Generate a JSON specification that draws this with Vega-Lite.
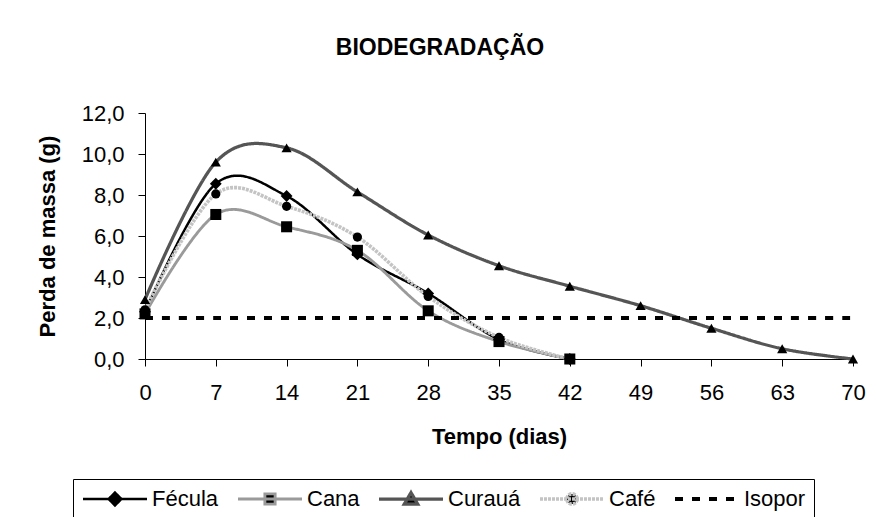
{
  "$schema": "https://vega.github.io/schema/vega-lite/v6.json",
  "width": 708,
  "height": 246,
  "autosize": {"type": "none"},
  "padding": {"left": 145, "top": 113, "right": 23, "bottom": 158},
  "background": "white",
  "config": {
    "font": "Liberation Sans",
    "view": {"stroke": null},
    "axis": {
      "domainColor": "black",
      "tickColor": "black",
      "labelColor": "black",
      "titleColor": "black",
      "labelFont": "Liberation Sans",
      "titleFont": "Liberation Sans",
      "labelFontSize": 22,
      "titleFontSize": 22,
      "titleFontWeight": "bold",
      "grid": false,
      "tickSize": 7
    }
  },
  "title": {
    "text": "BIODEGRADAÇÃO",
    "font": "Liberation Sans",
    "fontSize": 23,
    "fontWeight": "bold",
    "color": "black",
    "anchor": "middle",
    "dx": -59,
    "offset": 42
  },
  "datasets": {
    "series": [
      {"dia": 0, "serie": "Fécula", "perda": 2.3},
      {"dia": 7, "serie": "Fécula", "perda": 8.55},
      {"dia": 14, "serie": "Fécula", "perda": 7.95},
      {"dia": 21, "serie": "Fécula", "perda": 5.1},
      {"dia": 28, "serie": "Fécula", "perda": 3.2},
      {"dia": 35, "serie": "Fécula", "perda": 0.95},
      {"dia": 42, "serie": "Fécula", "perda": 0.0},
      {"dia": 0, "serie": "Cana", "perda": 2.2},
      {"dia": 7, "serie": "Cana", "perda": 7.05},
      {"dia": 14, "serie": "Cana", "perda": 6.45},
      {"dia": 21, "serie": "Cana", "perda": 5.3},
      {"dia": 28, "serie": "Cana", "perda": 2.35},
      {"dia": 35, "serie": "Cana", "perda": 0.85},
      {"dia": 42, "serie": "Cana", "perda": 0.0},
      {"dia": 0, "serie": "Curauá", "perda": 2.9},
      {"dia": 7, "serie": "Curauá", "perda": 9.6},
      {"dia": 14, "serie": "Curauá", "perda": 10.3},
      {"dia": 21, "serie": "Curauá", "perda": 8.15},
      {"dia": 28, "serie": "Curauá", "perda": 6.05},
      {"dia": 35, "serie": "Curauá", "perda": 4.55},
      {"dia": 42, "serie": "Curauá", "perda": 3.55},
      {"dia": 49, "serie": "Curauá", "perda": 2.6},
      {"dia": 56, "serie": "Curauá", "perda": 1.5},
      {"dia": 63, "serie": "Curauá", "perda": 0.5},
      {"dia": 70, "serie": "Curauá", "perda": 0.0},
      {"dia": 0, "serie": "Café", "perda": 2.4},
      {"dia": 7, "serie": "Café", "perda": 8.05},
      {"dia": 14, "serie": "Café", "perda": 7.45},
      {"dia": 21, "serie": "Café", "perda": 5.95},
      {"dia": 28, "serie": "Café", "perda": 3.05},
      {"dia": 35, "serie": "Café", "perda": 1.05},
      {"dia": 42, "serie": "Café", "perda": 0.0},
      {"dia": 0, "serie": "Isopor", "perda": 2.0},
      {"dia": 7, "serie": "Isopor", "perda": 2.0},
      {"dia": 14, "serie": "Isopor", "perda": 2.0},
      {"dia": 21, "serie": "Isopor", "perda": 2.0},
      {"dia": 28, "serie": "Isopor", "perda": 2.0},
      {"dia": 35, "serie": "Isopor", "perda": 2.0},
      {"dia": 42, "serie": "Isopor", "perda": 2.0},
      {"dia": 49, "serie": "Isopor", "perda": 2.0},
      {"dia": 56, "serie": "Isopor", "perda": 2.0},
      {"dia": 63, "serie": "Isopor", "perda": 2.0},
      {"dia": 70, "serie": "Isopor", "perda": 2.0}
    ]
  },
  "data": {"name": "series"},
  "encoding": {
    "x": {
      "field": "dia",
      "type": "quantitative",
      "scale": {"domain": [0, 70], "nice": false, "zero": false},
      "axis": {
        "title": "Tempo (dias)",
        "values": [0, 7, 14, 21, 28, 35, 42, 49, 56, 63, 70],
        "labelPadding": 16,
        "titlePadding": 23,
        "labelFlush": false,
        "labelOverlap": false
      }
    },
    "y": {
      "field": "perda",
      "type": "quantitative",
      "scale": {"domain": [0, 12], "nice": false},
      "axis": {
        "title": "Perda de massa (g)",
        "values": [0, 2, 4, 6, 8, 10, 12],
        "labelExpr": "replace(format(datum.value, '.1f'), '.', ',')",
        "labelPadding": 14,
        "titlePadding": 22,
        "labelFlush": false
      }
    }
  },
  "layer": [
    {
      "mark": {"type": "line", "interpolate": "cardinal", "tension": 0},
      "encoding": {
        "stroke": {
          "field": "serie",
          "type": "nominal",
          "scale": {
            "domain": ["Fécula", "Cana", "Curauá", "Café", "Isopor"],
            "range": ["#000000", "#9a9a9a", "#555555", "#c4c4c4", "#000000"]
          },
          "legend": {
            "title": null,
            "orient": "none",
            "legendX": -72,
            "legendY": 366,
            "direction": "horizontal",
            "columns": 5,
            "strokeColor": "black",
            "padding": 8,
            "columnPadding": 17,
            "labelOffset": 3,
            "labelFont": "Liberation Sans",
            "labelFontSize": 22,
            "labelColor": "black",
            "symbolSize": 4096,
            "symbolFillColor": "black",
            "clipHeight": 24,
            "encode": {
              "symbols": {
                "update": {
                  "shape": {"signal": "datum.value === 'Fécula' ? 'M-1,0H1M0,-0.2L0.2,0L0,0.2L-0.2,0Z' : datum.value === 'Cana' ? 'M-1,0H1M-0.16,-0.16H0.16V0.16H-0.16Z' : datum.value === 'Curauá' ? 'M-1,0H1M0,-0.2L0.21,0.16H-0.21Z' : datum.value === 'Café' ? 'M-1,0H1M0.16,0A0.16,0.16,0,1,1,-0.16,0A0.16,0.16,0,1,1,0.16,0Z' : 'M-1,0H1'"},
                  "fill": {"value": "black"},
                  "fillOpacity": {"value": 1},
                  "opacity": {"value": 1},
                  "strokeWidth": {"signal": "datum.value === 'Isopor' ? 3.5 : 2.5"}
                }
              }
            }
          }
        },
        "strokeDash": {
          "field": "serie",
          "type": "nominal",
          "scale": {
            "domain": ["Fécula", "Cana", "Curauá", "Café", "Isopor"],
            "range": [[1, 0], [1, 0], [1, 0], [3, 1], [8, 9]]
          }
        },
        "strokeWidth": {
          "field": "serie",
          "type": "nominal",
          "scale": {
            "domain": ["Fécula", "Cana", "Curauá", "Café", "Isopor"],
            "range": [2.5, 4, 4.5, 4, 4]
          },
          "legend": null
        },
        "order": {"field": "dia", "type": "quantitative"}
      }
    },
    {
      "transform": [{"filter": "datum.serie !== 'Isopor'"}],
      "mark": {"type": "point", "filled": true, "fill": "black", "opacity": 1},
      "encoding": {
        "shape": {
          "field": "serie",
          "type": "nominal",
          "scale": {
            "domain": ["Fécula", "Cana", "Curauá", "Café"],
            "range": ["diamond", "square", "triangle-up", "circle"]
          },
          "legend": null
        },
        "size": {
          "field": "serie",
          "type": "nominal",
          "scale": {
            "domain": ["Fécula", "Cana", "Curauá", "Café"],
            "range": [140, 85, 180, 90]
          },
          "legend": null
        }
      }
    }
  ]
}
